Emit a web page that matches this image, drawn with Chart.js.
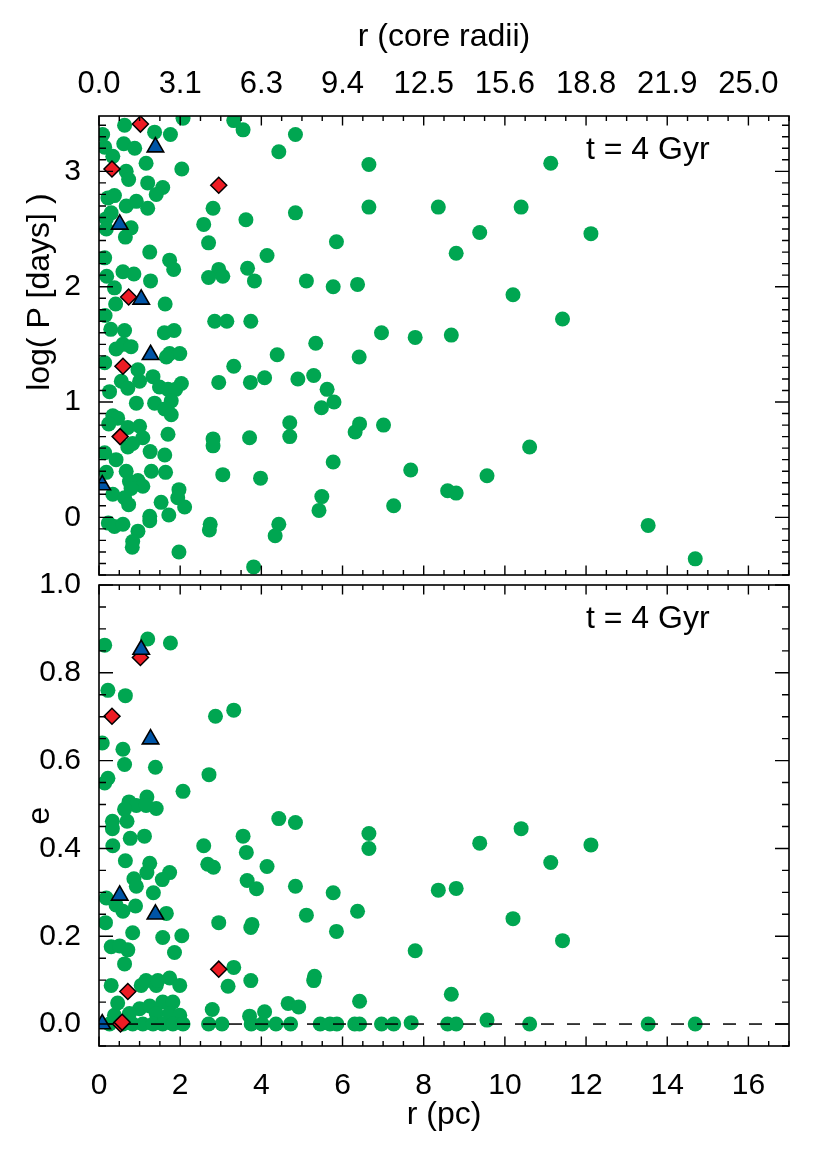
<!DOCTYPE html>
<html>
<head>
<meta charset="utf-8">
<script src="https://cdn.jsdelivr.net/npm/chart.js@4/dist/chart.umd.min.js"></script>
<style>
  html, body { margin: 0; padding: 0; background: #fff; }
  #wrap { position: relative; width: 830px; height: 1163px; }
  canvas { position: absolute; left: 0; }
  #top { top: 0; }
  #bottom { top: 560px; }
</style>
</head>
<body>
<div id="wrap">
  <canvas id="bottom" width="830" height="603"></canvas>
  <canvas id="top" width="830" height="600"></canvas>
</div>
<script>
// r in pc; 1 pc = 25/16 core radii (top axis)
const pcToCore = 25 / 16;
const rTicksPc = [0, 2, 4, 6, 8, 10, 12, 14, 16];

// top panel: [r (pc), log P (days)]
const periodSingles = [
  [0.09,3.32],[0.14,3.21],[0.63,3.40],[0.61,3.24],[0.88,3.20],[1.37,3.34],[1.76,3.32],[2.07,3.46],[3.32,3.44],[3.55,3.36],
  [0.34,3.13],[1.16,3.07],[2.04,3.02],[0.67,3.00],[0.73,2.93],[1.20,2.90],[1.57,2.86],[1.41,2.80],[0.22,2.77],[0.38,2.79],
  [0.67,2.70],[0.92,2.74],[1.20,2.68],[0.18,2.59],[0.30,2.64],[0.18,2.50],[0.79,2.51],[0.65,2.43],[0.14,2.25],[0.19,2.09],
  [0.59,2.13],[0.86,2.11],[0.38,1.99],[1.27,2.05],[1.74,2.23],[1.84,2.15],[1.25,2.30],[1.63,1.85],[0.15,1.75],[0.41,1.85],
  [0.29,1.63],[0.63,1.62],[1.61,1.60],[1.85,1.62],
  [4.84,3.32],[4.43,3.17],[4.84,2.64],[3.62,2.58],[2.58,2.54],[2.70,2.38],[2.81,2.68],[4.14,2.27],[5.11,2.05],[5.77,2.00],
  [3.66,2.16],[3.83,2.05],[2.95,2.15],[2.70,2.08],[3.05,2.09],[2.85,1.70],[3.15,1.70],[3.74,1.70],[5.85,2.39],
  [5.34,1.51],[4.39,1.41],[0.42,1.46],[0.59,1.50],[0.79,1.48],[1.74,1.42],[1.99,1.42],[1.66,1.39],[0.14,1.34],[3.32,1.31],
  [2.95,1.17],[3.73,1.17],[4.08,1.21],[4.90,1.20],[5.29,1.23],[5.62,1.11],[5.79,1.00],[5.48,0.95],
  [0.96,1.28],[1.33,1.22],[1.00,1.18],[0.55,1.18],[0.71,1.12],[0.26,1.09],[1.49,1.13],[1.70,1.11],[2.03,1.16],[1.89,1.11],
  [0.92,0.99],[1.37,0.99],[1.78,1.01],[1.62,0.94],[1.78,0.89],[0.34,0.88],[0.46,0.86],[0.24,0.81],[0.71,0.78],[1.00,0.79],
  [1.08,0.69],[1.70,0.72],[0.71,0.61],[0.83,0.64],[1.26,0.57],[1.62,0.54],[0.14,0.56],[0.42,0.50],[0.18,0.39],[0.67,0.40],
  [1.29,0.40],[1.64,0.39],[0.75,0.31],[0.96,0.32],[1.08,0.27],[0.79,0.25],[0.34,0.20],[0.63,0.17],[0.73,0.11],[1.97,0.24],
  [1.94,0.17],[2.11,0.09],[1.53,0.13],[1.72,0.02],[0.23,-0.05],[0.38,-0.08],[0.59,-0.06],[1.25,0.01],[1.25,-0.03],[0.96,-0.12],
  [0.83,-0.21],[0.82,-0.26],[1.97,-0.30],[2.81,0.68],[2.81,0.62],[3.71,0.69],[4.70,0.82],[4.70,0.70],[3.05,0.37],[3.98,0.34],
  [2.74,-0.06],[2.72,-0.11],[4.43,-0.06],[4.34,-0.16],[5.77,0.48],[5.49,0.18],[5.42,0.06],[3.81,-0.43],
  [6.65,3.06],[11.13,3.07],[6.65,2.69],[8.36,2.69],[10.40,2.69],[9.38,2.47],[8.80,2.29],[12.12,2.46],[6.37,2.02],
  [6.96,1.60],[7.79,1.56],[8.68,1.58],[10.20,1.93],[11.42,1.72],[6.41,1.39],[6.42,0.81],[6.31,0.74],[7.01,0.80],[10.61,0.61],
  [7.68,0.41],[9.56,0.36],[8.59,0.23],[8.80,0.21],[7.26,0.10],[13.53,-0.07],[14.69,-0.36]
];
const periodRed = [[1.02,3.41],[0.32,3.02],[2.95,2.88],[0.73,1.91],[0.59,1.31],[0.52,0.70]];
const periodBlue = [[1.39,3.21],[0.51,2.54],[1.04,1.89],[1.27,1.41],[0.08,0.28]];

// bottom panel: [r (pc), e]
const eccSingles = [
  [0.14,0.863],[1.20,0.877],[1.76,0.868],[0.22,0.760],[0.65,0.748],[2.87,0.701],[3.32,0.715],[0.08,0.640],[0.59,0.626],[0.63,0.591],
  [1.39,0.585],[0.22,0.560],[0.14,0.549],[2.71,0.568],[2.07,0.530],[1.18,0.517],[0.74,0.506],[0.92,0.498],[1.41,0.491],[0.63,0.489],
  [1.16,0.498],[0.33,0.462],[0.33,0.445],[0.69,0.462],[0.77,0.423],[1.12,0.428],[0.34,0.406],[2.58,0.406],[3.55,0.428],[3.63,0.391],
  [4.43,0.468],[4.84,0.459],[0.65,0.372],[1.25,0.366],[1.18,0.345],[1.74,0.345],[1.56,0.329],[0.86,0.331],[0.92,0.314],[1.34,0.299],
  [2.68,0.364],[2.82,0.357],[4.14,0.359],[3.65,0.327],[3.88,0.308],[4.84,0.314],[5.77,0.299],[0.18,0.287],[0.42,0.271],[0.59,0.257],
  [0.90,0.269],[1.66,0.252],[0.16,0.231],[2.95,0.231],[3.77,0.227],[3.74,0.220],[5.11,0.248],[5.85,0.211],[0.83,0.208],[1.57,0.197],
  [2.04,0.201],[1.86,0.163],[0.30,0.176],[0.51,0.178],[0.71,0.169],[0.63,0.137],[3.32,0.129],[3.18,0.086],[3.74,0.099],[5.31,0.109],
  [5.29,0.099],[0.30,0.088],[1.04,0.088],[1.16,0.099],[1.41,0.088],[1.74,0.105],[1.99,0.088],[1.45,0.099],[0.46,0.048],[1.00,0.035],
  [1.25,0.041],[1.57,0.050],[1.82,0.050],[2.79,0.033],[4.08,0.028],[4.66,0.047],[4.92,0.039],[3.71,0.018],[0.38,0.020],[0.75,0.024],
  [1.41,0.024],[1.74,0.024],[1.99,0.020],
  [0.26,0],[0.59,0],[0.83,0],[1.08,0],[1.33,0],[1.57,0],[1.82,0],[2.07,0],[2.70,0],[3.03,0],[3.75,0],[4.02,0],[4.36,0],[4.72,0],
  [5.45,0],[5.69,0],[5.86,0],[6.30,0],[6.42,0],[6.96,0],[7.26,0],[7.69,0.003],[8.59,0],[8.80,0],[10.61,0],[13.53,0],[14.69,0],
  [6.65,0.434],[6.65,0.400],[9.38,0.412],[10.40,0.445],[12.12,0.408],[11.13,0.368],[8.36,0.305],[8.80,0.309],[6.37,0.257],[10.20,0.240],
  [11.42,0.190],[7.79,0.167],[6.42,0.052],[8.68,0.068],[9.56,0.009]
];
const eccRed = [[1.02,0.835],[0.32,0.701],[2.95,0.125],[0.71,0.074],[0.53,0.0],[0.57,0.004]];
const eccBlue = [[1.04,0.853],[1.27,0.649],[0.51,0.293],[1.39,0.250],[0.08,0.0]];
const eZero = [[0, 0], [17, 0]];

const GREEN = '#00a651', RED = '#ed1c24', BLUE = '#0054a6';
const FONT = 'Liberation Sans, Arial, Helvetica, sans-serif';
const tickFont = { family: FONT, size: 30, lineHeight: 1 };
const topTickFont = { family: FONT, size: 31, lineHeight: 1 };
const titleFont = { family: FONT, size: 32, lineHeight: 1 };

const pts = arr => arr.map(([x, y]) => ({ x, y }));

// box frame with inward ticks on all four sides + panel label
const boxTicks = {
  id: 'boxTicks',
  afterDatasetsDraw(chart, args, opts) {
    const { ctx, chartArea: a } = chart;
    const xs = chart.scales.x, ys = chart.scales.y;
    ctx.save();
    ctx.strokeStyle = '#000';
    ctx.lineWidth = 1.6;
    ctx.strokeRect(a.left, a.top, a.right - a.left, a.bottom - a.top);
    ctx.lineWidth = 1.4;
    const each = (scale, step, fn) => {
      const i0 = Math.ceil(scale.min / step - 1e-9);
      for (let i = i0; i * step <= scale.max + 1e-9; i++) fn(scale.getPixelForValue(i * step));
    };
    ctx.beginPath();
    [[opts.xMinor, 5], [opts.xMajor, 9.5]].forEach(([step, len]) => {
      each(xs, step, px => {
        ctx.moveTo(px, a.bottom); ctx.lineTo(px, a.bottom - len);
        ctx.moveTo(px, a.top); ctx.lineTo(px, a.top + len);
      });
    });
    [[opts.yMinor, 7], [opts.yMajor, 14]].forEach(([step, len]) => {
      each(ys, step, py => {
        ctx.moveTo(a.left, py); ctx.lineTo(a.left + len, py);
        ctx.moveTo(a.right, py); ctx.lineTo(a.right - len, py);
      });
    });
    ctx.stroke();
    ctx.fillStyle = '#000';
    ctx.font = '32px ' + FONT;
    ctx.textBaseline = 'middle';
    ctx.fillText(opts.label, a.right - 203, a.top + 34);
    ctx.restore();
  }
};

const markers = (blue, red, green) => [
  { data: pts(blue), pointStyle: 'triangle', pointRadius: 9.5, backgroundColor: BLUE, borderColor: '#000', borderWidth: 1.6 },
  { data: pts(red), pointStyle: 'rectRot', pointRadius: 8, backgroundColor: RED, borderColor: '#000', borderWidth: 1.5 },
  { data: pts(green), pointStyle: 'circle', pointRadius: 7.5, backgroundColor: GREEN, borderWidth: 0 }
];

const common = {
  responsive: false,
  animation: false,
  events: [],
  plugins: { legend: { display: false }, tooltip: { enabled: false } }
};

new Chart(document.getElementById('top'), {
  type: 'scatter',
  data: { datasets: markers(periodBlue, periodRed, periodSingles) },
  options: {
    ...common,
    layout: { padding: { left: 0, right: 41, top: 0, bottom: 19 } },
    plugins: { ...common.plugins, boxTicks: { xMajor: 2, xMinor: 0.5, yMajor: 1, yMinor: 0.1, label: 't = 4 Gyr' } },
    scales: {
      x: {
        type: 'linear', position: 'top', min: 0, max: 17,
        grid: { display: false }, border: { display: false },
        afterBuildTicks: s => { s.ticks = rTicksPc.map(v => ({ value: v })); },
        ticks: {
          color: '#000', font: topTickFont, padding: 8.5, maxRotation: 0, autoSkip: false,
          callback: v => (v * pcToCore).toFixed(1)
        },
        title: { display: true, text: 'r (core radii)', color: '#000', font: titleFont, padding: { top: 21, bottom: 0 } },
        afterFit: s => { s.height = 116; }
      },
      y: {
        type: 'linear', position: 'left', min: -0.5, max: 3.48,
        grid: { display: false }, border: { display: false },
        ticks: { color: '#000', font: tickFont, padding: 10, stepSize: 1, includeBounds: false, callback: v => String(v) },
        // leading spaces lift the title above the axis centre, as in the original
        title: { display: true, text: '            log( P [days] )', color: '#000', font: titleFont, padding: { top: 24, bottom: 0 } },
        afterFit: s => { s.width = 99; }
      }
    }
  },
  plugins: [boxTicks]
});

const eccSets = markers(eccBlue, eccRed, eccSingles);
eccSets.splice(2, 0, {
  data: pts(eZero), showLine: true, pointRadius: 0, borderColor: '#000', borderWidth: 1.5, borderDash: [13, 13]
});

new Chart(document.getElementById('bottom'), {
  type: 'scatter',
  data: { datasets: eccSets },
  options: {
    ...common,
    layout: { padding: { left: 0, right: 41, top: 21, bottom: 0 } },
    plugins: { ...common.plugins, boxTicks: { xMajor: 2, xMinor: 0.5, yMajor: 0.2, yMinor: 0.05, label: 't = 4 Gyr' } },
    scales: {
      x: {
        type: 'linear', position: 'bottom', min: 0, max: 17,
        grid: { display: false }, border: { display: false },
        afterBuildTicks: s => { s.ticks = rTicksPc.map(v => ({ value: v })); },
        ticks: { color: '#000', font: tickFont, padding: 17, maxRotation: 0, autoSkip: false, callback: v => String(v) },
        title: { display: true, text: 'r (pc)', color: '#000', font: titleFont, padding: { top: 0, bottom: 32 } },
        afterFit: s => { s.height = 117; }
      },
      y: {
        type: 'linear', position: 'left', min: -0.05, max: 1.0,
        grid: { display: false }, border: { display: false },
        ticks: { color: '#000', font: tickFont, padding: 10, stepSize: 0.2, includeBounds: false, callback: v => v.toFixed(1) },
        title: { display: true, text: 'e', color: '#000', font: titleFont, padding: { top: 24, bottom: 0 } },
        afterFit: s => { s.width = 99; }
      }
    }
  },
  plugins: [boxTicks]
});
</script>
</body>
</html>
